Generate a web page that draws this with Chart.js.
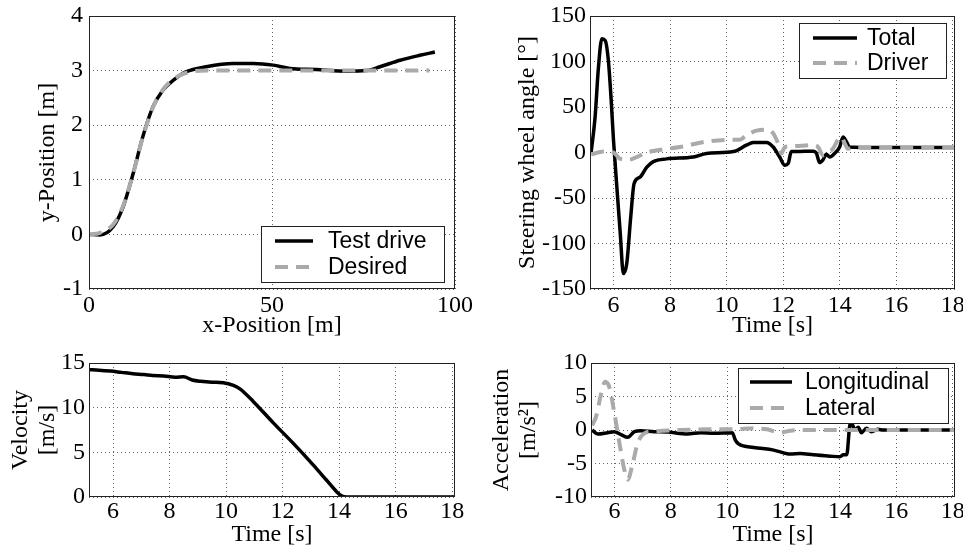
<!DOCTYPE html>
<html>
<head>
<meta charset="utf-8">
<script src="https://cdn.jsdelivr.net/npm/chart.js@4.4.0/dist/chart.umd.min.js"></script>
<style>
body { margin: 0; background: #fff; width: 963px; height: 548px; position: relative; overflow: hidden; }
.box { position: absolute; }
</style>
</head>
<body>
<div class="box" style="left:0;top:0;width:480px;height:340px"><canvas id="c1"></canvas></div>
<div class="box" style="left:480px;top:0;width:483px;height:340px"><canvas id="c2"></canvas></div>
<div class="box" style="left:0;top:340px;width:480px;height:208px"><canvas id="c3"></canvas></div>
<div class="box" style="left:480px;top:340px;width:483px;height:208px"><canvas id="c4"></canvas></div>
<script>
// lane change: y over x
var pathX = [0, 3, 6.6, 9.3, 12, 14.7, 17.5, 20.2, 23, 26.6, 32, 39.4, 44.9, 50.3, 54.9, 62, 70.4, 75.8, 79.5, 85, 90.4, 94.5];
var testDriveY = [0, -0.01, 0.14, 0.5, 1.1, 1.79, 2.34, 2.64, 2.82, 2.98, 3.07, 3.13, 3.13, 3.1, 3.04, 3.02, 2.99, 3.0, 3.07, 3.19, 3.28, 3.34];
var desiredX = [0, 3, 6.6, 9.3, 12, 14.7, 17.5, 20.2, 23, 26.6, 32, 40, 60, 80, 93];
var desiredY = [0, 0.03, 0.18, 0.52, 1.1, 1.78, 2.33, 2.65, 2.84, 2.96, 3.0, 3.0, 3.0, 3.0, 3.0];

// steering wheel angle
var totalT = [5.21, 5.35, 5.47, 5.59, 5.71, 5.82, 5.92, 6.0, 6.12, 6.24, 6.35, 6.47, 6.61, 6.73, 6.94, 7.18, 7.41, 7.88, 8.82, 9.29, 10.24, 10.7, 10.94, 11.41, 11.65, 11.88, 12.06, 12.18, 12.29, 12.47, 13.06, 13.18, 13.29, 13.41, 13.53, 13.65, 13.82, 14.0, 14.12, 14.24, 14.35, 15, 16, 17, 18.08];
var totalAngle = [0, 39, 94, 125, 123, 101, 57, 14, -38, -89, -133, -122, -71, -34, -27, -16, -10, -7, -5, -1, 1, 8, 11, 11, 6, -5, -14, -12, 1, 1, 1.5, -1, -11, -8, -2, -5, -1, 6, 17, 12, 6, 5.5, 5.5, 5.5, 5.5];
var driverT = [5.21, 5.65, 6.0, 6.24, 6.53, 6.82, 7.18, 7.65, 8.35, 9.29, 10.24, 10.47, 10.7, 11.06, 11.41, 11.65, 11.82, 11.94, 12.06, 12.35, 13.06, 13.24, 13.41, 13.59, 13.76, 13.94, 14.06, 14.18, 14.29, 14.47, 16, 18.08];
var driverAngle = [-2, 1, 0, -7, -8, -5, 0, 3, 6, 12, 14, 14, 19, 24, 25, 21, 10, -1, 6, 7, 8, 6, -3, 1, 4, 14, 17, 10, 4, 5.5, 5.5, 5.5];

// velocity
var velT = [5.15, 5.5, 5.9, 6.3, 6.7, 7.1, 7.4, 7.8, 8.2, 8.5, 8.8, 9.1, 9.5, 9.9, 10.26, 10.49, 10.96, 11.67, 12.38, 13.08, 13.55, 13.91, 14.08, 14.26, 16, 18.1];
var velocity = [14.25, 14.2, 14.1, 13.95, 13.8, 13.7, 13.6, 13.55, 13.4, 13.45, 13.1, 12.95, 12.85, 12.8, 12.5, 12.1, 10.7, 8.3, 6.0, 3.6, 1.9, 0.6, 0.15, 0, 0, 0];

// acceleration
var lonT = [5.21, 5.41, 5.76, 6.0, 6.24, 6.47, 6.71, 6.94, 7.41, 7.88, 8.59, 9.06, 9.53, 10.18, 10.29, 10.41, 10.94, 11.65, 12.24, 12.59, 13.06, 13.65, 14.0, 14.12, 14.24, 14.35, 14.41, 14.53, 14.65, 14.76, 14.94, 15.12, 15.35, 15.53, 17, 18.08];
var lonAcc = [0, -0.6, -0.4, -0.25, -0.7, -1.1, -0.25, -0.1, -0.25, -0.3, -0.6, -0.4, -0.5, -0.4, -1.5, -2.1, -2.6, -3.0, -3.6, -3.5, -3.7, -3.9, -4.0, -3.7, -3.7, 0.7, 1.0, 0, 0.4, -0.4, 0.25, -0.25, 0.1, 0, 0, 0];
var latT = [5.21, 5.35, 5.53, 5.67, 5.82, 6.0, 6.18, 6.35, 6.47, 6.65, 6.82, 7.06, 7.41, 8.35, 9.29, 10.24, 10.94, 11.41, 11.88, 12.24, 13.06, 15, 18.08];
var latAcc = [0.7, 2, 5.4, 7.2, 6.4, 2.5, -2, -5.9, -7.4, -5, -2, -0.5, -0.2, 0, 0.1, 0.1, 0.25, 0.1, -0.4, -0.1, 0, 0, 0];

var posXTicks = [0, 50, 100];
var posYTicks = [-1, 0, 1, 2, 3, 4];
var timeTicks = [6, 8, 10, 12, 14, 16, 18];
var angleTicks = [-150, -100, -50, 0, 50, 100, 150];
var velTicks = [0, 5, 10, 15];
var accTicks = [-10, -5, 0, 5, 10];

var serif = '"Liberation Serif", "Times New Roman", serif';
var tickFont = {family: serif, size: 24};
var titleFont = {family: serif, size: 24, lineHeight: 1.12};

function pts(xs, ys) {
    var out = [];
    for (var i = 0; i < xs.length; i++) out.push({x: xs[i], y: ys[i]});
    return out;
}

function solid(label, xs, ys) {
    return {label: label, data: pts(xs, ys), borderColor: '#000', borderWidth: 3.5, order: 2};
}
function dashed(label, xs, ys) {
    return {label: label, data: pts(xs, ys), borderColor: '#aaaaaa', borderWidth: 4, borderDash: [13, 8], order: 1};
}

var frameLegend = {
    id: 'frameLegend',
    afterDraw: function(chart, args, opts) {
        var ctx = chart.ctx, a = chart.chartArea;
        ctx.save();
        ctx.strokeStyle = '#222';
        ctx.lineWidth = 1;
        ctx.strokeRect(a.left + 0.5, a.top + 0.5, a.right - a.left - 1, a.bottom - a.top - 1);
        if (opts && opts.box) {
            var b = opts.box;
            ctx.fillStyle = '#fff';
            ctx.fillRect(b[0], b[1], b[2], b[3]);
            ctx.strokeRect(b[0] + 0.5, b[1] + 0.5, b[2], b[3]);
            var ds = chart.data.datasets;
            ctx.font = '23px "Liberation Sans", Arial, sans-serif';
            ctx.textBaseline = 'middle';
            for (var i = 0; i < ds.length; i++) {
                var y = opts.rows[i];
                ctx.beginPath();
                ctx.strokeStyle = ds[i].borderColor;
                ctx.lineWidth = ds[i].borderWidth;
                ctx.setLineDash(ds[i].borderDash || []);
                ctx.moveTo(opts.sampleX, y);
                ctx.lineTo(opts.sampleX + opts.sampleW, y);
                ctx.stroke();
                ctx.setLineDash([]);
                ctx.fillStyle = '#000';
                ctx.fillText(ds[i].label, opts.textX, y + 1);
            }
        }
        ctx.restore();
    }
};

function axis(cfg, fitFn) {
    return {
        type: 'linear', min: cfg.min, max: cfg.max,
        afterBuildTicks: function(s) { s.ticks = cfg.ticks.map(function(v) { return {value: v}; }); },
        afterFit: fitFn,
        grid: {color: '#666', lineWidth: 1, drawTicks: false},
        border: {display: false, dash: [1, 3]},
        ticks: {color: '#000', padding: cfg.tickPad, font: tickFont, maxRotation: 0, autoSkip: false},
        title: {display: true, text: cfg.title, color: '#000', font: titleFont, padding: cfg.titlePad}
    };
}

function makeChart(id, area, datasets, xCfg, yCfg, legend) {
    var canvas = document.getElementById(id);
    var W = canvas.parentNode.clientWidth, H = canvas.parentNode.clientHeight;
    return new Chart(canvas, {
        type: 'line',
        data: {datasets: datasets},
        options: {
            animation: false,
            responsive: true,
            maintainAspectRatio: false,
            layout: {padding: {left: 0, top: area.top, right: W - area.right, bottom: 0}},
            elements: {point: {radius: 0}, line: {cubicInterpolationMode: 'monotone', borderJoinStyle: 'round'}},
            plugins: {legend: {display: false}, tooltip: {enabled: false}, frameLegend: legend || {}},
            scales: {
                x: axis(xCfg, function(s) { s.height = H - area.bottom; s.paddingLeft = 0; s.paddingRight = 0; }),
                y: axis(yCfg, function(s) { s.width = area.left; s.paddingTop = 0; s.paddingBottom = 0; })
            }
        },
        plugins: [frameLegend]
    });
}

makeChart('c1', {left: 89, top: 16, right: 455, bottom: 289},
    [solid('Test drive', pathX, testDriveY), dashed('Desired', desiredX, desiredY)],
    {min: 0, max: 100, ticks: posXTicks, tickPad: 2, title: 'x-Position [m]', titlePad: {top: 0, bottom: 1}},
    {min: -1, max: 4, ticks: posYTicks, tickPad: 6, title: 'y-Position [m]', titlePad: {top: 34, bottom: 0}},
    {box: [261, 226, 183, 56], sampleX: 275, sampleW: 38, textX: 328, rows: [241, 267]});

makeChart('c2', {left: 110, top: 16, right: 475, bottom: 289},
    [solid('Total', totalT, totalAngle), dashed('Driver', driverT, driverAngle)],
    {min: 5.17, max: 18.08, ticks: timeTicks, tickPad: 2, title: 'Time [s]', titlePad: {top: 0, bottom: 1}},
    {min: -150, max: 150, ticks: angleTicks, tickPad: 4, title: 'Steering wheel angle [°]', titlePad: {top: 34, bottom: 0}},
    {box: [319, 23, 147, 55], sampleX: 333, sampleW: 44, textX: 387, rows: [38, 63]});

makeChart('c3', {left: 89, top: 23, right: 455, bottom: 157},
    [solid('Velocity', velT, velocity)],
    {min: 5.15, max: 18.1, ticks: timeTicks, tickPad: 0, title: 'Time [s]', titlePad: {top: 0, bottom: 0}},
    {min: 0, max: 15, ticks: velTicks, tickPad: 4, title: ['Velocity', '[m/s]'], titlePad: {top: 7, bottom: 0}},
    null);

makeChart('c4', {left: 111, top: 23, right: 475, bottom: 157},
    [solid('Longitudinal', lonT, lonAcc), dashed('Lateral', latT, latAcc)],
    {min: 5.17, max: 18.08, ticks: timeTicks, tickPad: 0, title: 'Time [s]', titlePad: {top: 0, bottom: 0}},
    {min: -10, max: 10, ticks: accTicks, tickPad: 4, title: ['Acceleration', '[m/s²]'], titlePad: {top: 8, bottom: 0}},
    {box: [258, 28, 210, 55], sampleX: 270, sampleW: 42, textX: 325, rows: [42, 68]});
</script>
</body>
</html>
